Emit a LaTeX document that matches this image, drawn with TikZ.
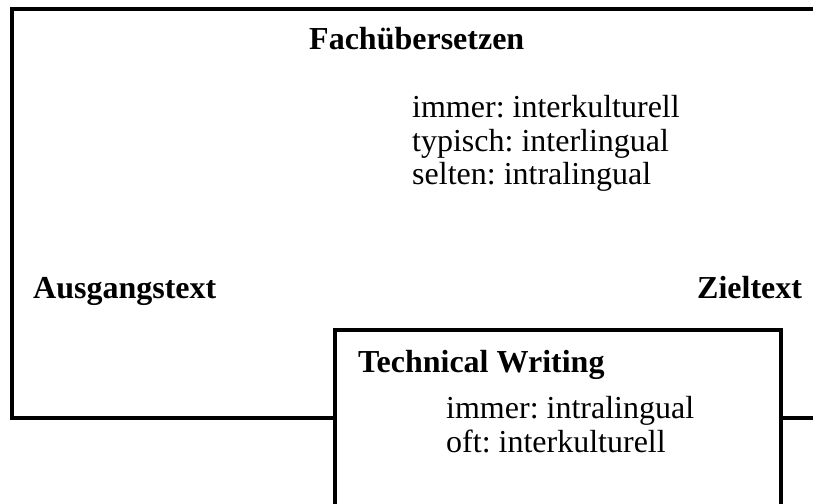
\documentclass[tikz,border=0pt]{standalone}
\usepackage{fontspec}
\setmainfont{Liberation Serif}
\frenchspacing
\begin{document}
\begin{tikzpicture}[x=1pt,y=-1pt,
  frame/.style={draw=black,line width=4pt},
  title/.style={font=\fontsize{32}{33.3}\selectfont\bfseries,anchor=base west,inner sep=0pt},
  body/.style={font=\fontsize{32}{33.3}\selectfont,anchor=base west,inner sep=0pt,align=left}]
\useasboundingbox (0,0) rectangle (813,503);
\clip (0,0) rectangle (813,503);
% outer frame (Fachuebersetzen)
\draw[frame] (12,9) rectangle (840,418);
% inner box (Technical Writing)
\draw[frame,fill=white] (335,330) rectangle (781,540);
\node[title] (fach) at (309,50) {Fachübersetzen};
\node[body] (fachlist) at (412,184.3) {immer: interkulturell\\typisch: interlingual\\selten: intralingual};
\node[title] (aus) at (33,298) {Ausgangstext};
\node[title] (ziel) at (697,298) {Zieltext};
\node[title] (tw) at (358,372) {Technical Writing};
\node[body] (twlist) at (446,452) {immer: intralingual\\oft: interkulturell};
\end{tikzpicture}
\end{document}
